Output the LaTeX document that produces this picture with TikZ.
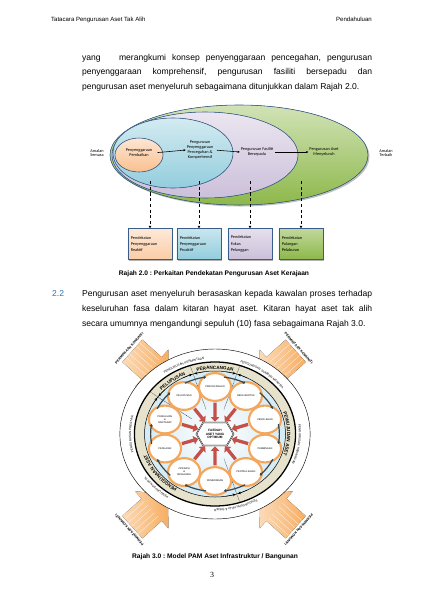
\documentclass[tikz,border=0pt]{standalone}
\usepackage{fontspec}
\setmainfont{Liberation Sans}
\newfontfamily\calibri{Carlito}
\newfontfamily\pagenumfont{Liberation Serif}
\usetikzlibrary{arrows.meta,shadows,shapes.geometric,shapes.symbols,decorations.text,positioning}

\definecolor{headblue}{HTML}{2E74B5}
\definecolor{ringline}{HTML}{385D8A}
\definecolor{ellgreen}{HTML}{8DB84A}
\definecolor{ellpurple}{HTML}{CCC0DA}
\definecolor{ellblue}{HTML}{93CDDD}
\definecolor{ellorange}{HTML}{FAC090}
\definecolor{bandbeige}{HTML}{E6E2CB}
\definecolor{diskblue}{HTML}{D5EAF3}
\definecolor{rimorange}{HTML}{F4A75C}
\definecolor{arrowred}{HTML}{C4504A}
\definecolor{curlgray}{HTML}{36474F}
\definecolor{komorange}{HTML}{F7AE62}

\newcommand\bandfont{\bfseries\fontsize{6.5}{7}\selectfont}
\newcommand\ringfont{\fontsize{4.3}{5}\selectfont}

\tikzset{
  bodyline/.style={anchor=base west, inner sep=0pt, font=\fontsize{12}{14}\selectfont},
  ellbody/.style={draw=ringline, line width=0.8pt},
  elllabel/.style={font=\calibri\fontsize{6}{6.8}\selectfont, align=center, inner sep=1pt},
  flowarrow/.style={-{Latex[length=3.2pt,width=3.2pt]}, line width=0.8pt},
  dasharrow/.style={dash pattern=on 4.5pt off 3.5pt, line width=1.2pt, -{Latex[length=3.5pt,width=4pt]}},
  apbox/.style={draw=ringline, line width=0.7pt, minimum width=62pt, minimum height=43pt,
    text width=54pt, align=left, inner sep=3pt, font=\calibri\fontsize{6}{8.6}\selectfont},
  boxshade/.style={fill=black!30, draw=none, minimum width=62pt, minimum height=43pt},
  phase/.style={ellipse, draw=rimorange, line width=3pt, fill=white, minimum width=45pt,
    minimum height=39pt, inner sep=0pt, align=center, font=\fontsize{3.5}{4.3}\selectfont},
  hexnode/.style={signal, signal to=east and west, signal pointer angle=120, draw, double,
    line width=0.6pt, fill=white, minimum width=52pt, minimum height=32pt, inner sep=0.5pt,
    align=center, font=\bfseries\fontsize{4.5}{5.4}\selectfont},
  redarrow/.style={line width=4.6pt, arrowred, -{Triangle[length=6.5pt,width=12pt]},
    shorten <=1pt, shorten >=1pt},
  curlarrow/.style={line width=1.7pt, curlgray, -{Triangle[length=3pt,width=4.5pt]}},
  sectorline/.style={densely dotted, line width=0.6pt},
  junctiontip/.style={line width=0.5pt, -{Stealth[length=4pt,width=4pt]}},
  komfill/.style={left color=komorange!45, right color=komorange},
  komtext/.style={font=\bfseries\fontsize{4.8}{5}\selectfont, inner sep=0pt}
}

\begin{document}
\frenchspacing
\begin{tikzpicture}[x=1.403pt,y=-1.403pt]
\path[use as bounding box, fill=white] (0,0) rectangle (424,599);

% header
\node[anchor=base west, inner sep=0pt, font=\fontsize{8.5}{10}\selectfont] (hdleft) at (51,21.5) {Tatacara Pengurusan Aset Tak Alih};
\node[anchor=base east, inner sep=0pt, font=\fontsize{8.5}{10}\selectfont] (hdright) at (372,21.5) {Pendahuluan};

% first paragraph
\node[bodyline] (para1a) at (82,60) {\hbox to 407pt{yang\ \ \ merangkumi konsep penyenggaraan pencegahan, pengurusan}};
\node[bodyline] (para1b) at (82,74.5) {\hbox to 407pt{penyenggaraan komprehensif, pengurusan fasiliti bersepadu dan}};
\node[bodyline] (para1c) at (82,89) {pengurusan aset menyeluruh sebagaimana ditunjukkan dalam Rajah 2.0.};

% Rajah 2.0 : nested ellipses
\fill[black!25] (240.5,156.5) ellipse [x radius=129, y radius=50];
\filldraw[ellbody, top color=ellgreen!40, bottom color=ellgreen] (239,155) ellipse [x radius=129, y radius=50];
\filldraw[ellbody, top color=ellpurple!40, bottom color=ellpurple] (205,155) ellipse [x radius=93, y radius=43];
\filldraw[ellbody, top color=ellblue!40, bottom color=ellblue] (173,153) ellipse [x radius=60, y radius=35];
\filldraw[ellbody, top color=ellorange!40, bottom color=ellorange] (139,155) ellipse [x radius=24, y radius=17];

\node[elllabel] (semasa) at (97,153) {Amalan\\Semasa};
\node[elllabel] (terbaik) at (386,153) {Amalan\\Terbaik};
\node[elllabel] (pembaikan) at (139,153) {Penyenggaraan\\Pembaikan};
\node[elllabel] (komprehensif) at (200,150) {Pengurusan\\Penyenggaraan\\Pencegahan \&\\Komprehensif};
\node[elllabel] (bersepadu) at (257,152) {Pengurusan Fasiliti\\Bersepadu};
\node[elllabel] (menyeluruh) at (324,152) {Pengurusan Aset\\Menyeluruh};

\draw[flowarrow, shorten <=6pt] (pembaikan.east) -- (komprehensif.west);
\draw[flowarrow, shorten <=4pt] (komprehensif.east) -- (bersepadu.west);
\draw[flowarrow, shorten <=2pt] (bersepadu.east) -- (menyeluruh.west);

\coordinate (drop1) at (150,181);
\coordinate (drop2) at (199,181);
\coordinate (drop3) at (250,181);
\coordinate (drop4) at (301,181);

\foreach \bx in {150,199,250,301}
  \node[boxshade] at (\bx+1.2,245.2) {};
\node[apbox, top color=ellorange!35, bottom color=ellorange!80] (reaktif) at (150,244) {Pendekatan\\Penyenggaraan\\Reaktif};
\node[apbox, top color=ellblue!50, bottom color=ellblue] (proaktif) at (199,244) {Pendekatan\\Penyenggaraan\\Proaktif};
\node[apbox, top color=ellpurple!50, bottom color=ellpurple] (pelanggan) at (250,244) {Pendekatan\\Fokus\\Pelanggan};
\node[apbox, top color=ellgreen!55, bottom color=ellgreen] (pelaburan) at (301,244) {Pendekatan\\Pulangan\\Pelaburan};

\draw[dasharrow] (drop1) -- (reaktif.north);
\draw[dasharrow] (drop2) -- (proaktif.north);
\draw[dasharrow] (drop3) -- (pelanggan.north);
\draw[dasharrow] (drop4) -- (pelaburan.north);

\node[font=\bfseries\fontsize{9.3}{11}\selectfont] (caption2) at (214,273.5) {Rajah 2.0 : Perkaitan Pendekatan Pengurusan Aset Kerajaan};

% 2.2
\node[anchor=base west, inner sep=0pt, font=\fontsize{12}{14}\selectfont, text=headblue] (sec22) at (52,296.5) {2.2};
\node[bodyline] (para2a) at (82,296.5) {\hbox to 407pt{Pengurusan aset menyeluruh berasaskan kepada kawalan proses terhadap}};
\node[bodyline] (para2b) at (82,311.5) {\hbox to 407pt{keseluruhan fasa dalam kitaran hayat aset. Kitaran hayat aset tak alih}};
\node[bodyline] (para2c) at (82,326.5) {secara umumnya mengandungi sepuluh (10) fasa sebagaimana Rajah 3.0.};

% Rajah 3.0 : community demand arrows
\foreach \tx/\ty/\rot [count=\k] in {168/383/-42, 260/383/-138, 168/495/42, 260/495/138} {
  \begin{scope}[shift={(\tx,\ty)}, rotate=\rot]
    \fill[komfill] (0,0) -- (-22,25) -- (-22,15) -- (-48,15) -- (-48,-15) -- (-22,-15) -- (-22,-25) -- cycle;
    \foreach \s in {-11,-6,-1,4,9}
      \draw[white, line width=0.5pt, opacity=0.7] (-48,\s) -- (-22,\s);
    \node[komtext, rotate=\rot+90] (komuniti\k) at (-52,0) {PERMINTAAN KOMUNITI};
  \end{scope}
}

% Rajah 3.0 : life-cycle wheel
\begin{scope}[shift={(215,434)}, x={(1.57pt,0pt)}, y={(0pt,1.403pt)}]
  \draw[line width=0.6pt, fill=white] (0,0) circle [radius=85];
  \draw[line width=1.8pt, fill=bandbeige] (0,0) circle [radius=72];
  \draw[line width=0.7pt, inner color=white, outer color=diskblue] (0,0) circle [radius=63];

  % band labels
  \path[decorate, decoration={text along path, text align=center, text={|\bandfont|PELUPUSAN}}]
    (144:64.5) arc [start angle=144, end angle=108, radius=64.5];
  \path[decorate, decoration={text along path, text align=center, text={|\bandfont|PERANCANGAN}}]
    (108:64.5) arc [start angle=108, end angle=72, radius=64.5];
  \path[decorate, decoration={text along path, text align=center, text={|\bandfont|PEWUJUDAN ASET}}]
    (72:64.5) arc [start angle=72, end angle=-72, radius=64.5];
  \path[decorate, decoration={text along path, text align=center, text={|\bandfont|PENGGUNAAN ASET}}]
    (-72:64.5) arc [start angle=-72, end angle=-216, radius=64.5];

  % outer ring labels
  \path[decorate, decoration={text along path, text align=center, text={|\ringfont|PENGURUSAN PERMINTAAN}}]
    (145:75) arc [start angle=145, end angle=80, radius=75];
  \path[decorate, decoration={text along path, text align=center, text={|\ringfont|PENGURUSAN SUMBER MANUSIA}}]
    (88:75) arc [start angle=88, end angle=20, radius=75];
  \path[decorate, decoration={text along path, text align=center, text={|\ringfont|PENGURUSAN KEWANGAN}}]
    (22:75) arc [start angle=22, end angle=-38, radius=75];
  \path[decorate, decoration={text along path, text align=center, text={|\ringfont|PENGURUSAN NILAI {\&} RISIKO}}]
    (-40:75) arc [start angle=-40, end angle=-110, radius=75];
  \path[decorate, decoration={text along path, text align=center, text={|\ringfont|PENGURUSAN DATA}}]
    (-110:75) arc [start angle=-110, end angle=-160, radius=75];
  \path[decorate, decoration={text along path, text align=center, text={|\ringfont|PENGURUSAN PRESTASI}}]
    (-150:75) arc [start angle=-150, end angle=-210, radius=75];

  % sector boundaries
  \foreach \a in {144,108,72,-72} {
    \draw[sectorline] ({\a}:26) -- ({\a}:63);
    \draw[junctiontip] ({\a+9}:63) arc [start angle=\a+9, end angle=\a+1, radius=63];
    \draw[junctiontip] ({\a-9}:63) arc [start angle=\a-9, end angle=\a-1, radius=63];
    \draw[densely dotted, line width=0.5pt] ({\a}:63) -- ({\a}:71);
  }

  % phases
  \node[hexnode] (faedah) at (0,0) {FAEDAH\\ASET YANG\\OPTIMUM};
  \foreach \lbl [count=\i] in {PERANCANGAN, REKA BENTUK, PEROLEHAN, PEMBINAAN, PENTAULIAHAN,
      PENERIMAAN, {OPERASI\\\&\\SENGGARA}, PENILAIAN, {PEMULIHAN\\\&\\NAIKTARAF}, PELUPUSAN}
    \node[phase] (fasa\i) at ({126-36*\i}:47) {\lbl};
  \foreach \i in {1,...,10}
    \draw[redarrow] (fasa\i) -- (faedah);

  % turning arrows between phases
  \foreach \a in {72,36,...,-252}
    \draw[curlarrow] ({\a+10}:57.5) arc [start angle=\a+10, end angle=\a-10, radius=57.5];
\end{scope}

\node[font=\bfseries\fontsize{9.3}{11}\selectfont] (caption3) at (215,557) {Rajah 3.0 : Model PAM Aset Infrastruktur / Bangunan};
\node[font=\pagenumfont\fontsize{11}{13}\selectfont] (pagenum) at (212,575) {3};
\end{tikzpicture}
\end{document}
